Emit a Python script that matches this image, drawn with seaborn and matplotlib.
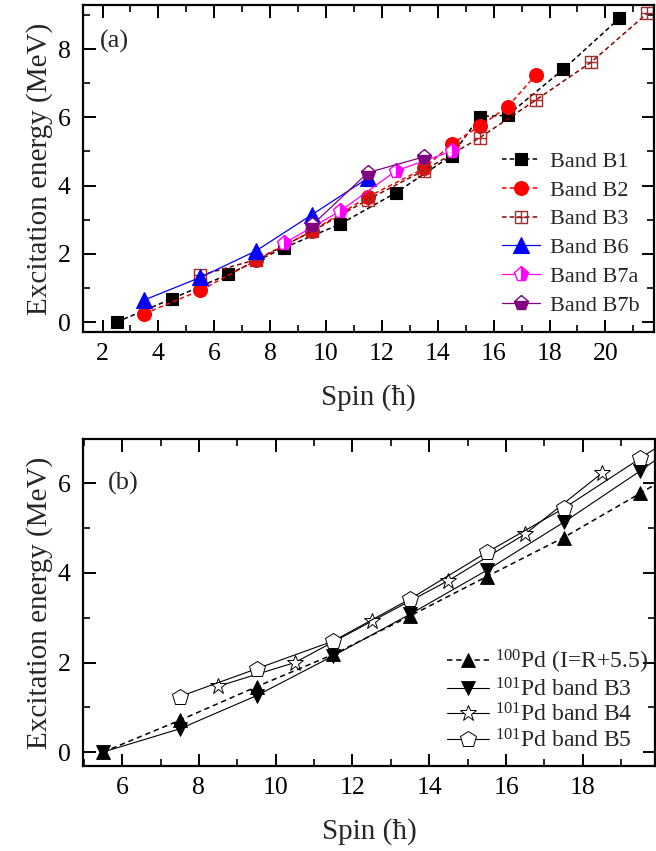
import matplotlib
matplotlib.use("Agg")
import matplotlib.pyplot as plt
from matplotlib.path import Path
from matplotlib.ticker import MultipleLocator
import seaborn as sns

# ---- Panel (a): rotational bands, excitation energy vs spin ----
b1_spin = [2.5, 4.5, 6.5, 8.5, 10.5, 12.5, 14.5, 15.5, 16.5, 18.5, 20.5]
b1_e = [0.0, 0.69, 1.40, 2.18, 2.87, 3.79, 4.88, 6.02, 6.06, 7.41, 8.90]
b2_spin = [3.5, 5.5, 7.5, 9.5, 11.5, 13.5, 14.5, 15.5, 16.5, 17.5]
b2_e = [0.25, 0.93, 1.81, 2.67, 3.67, 4.50, 5.22, 5.74, 6.31, 7.23]
b3_spin = [5.5, 7.5, 9.5, 11.5, 13.5, 15.5, 17.5, 19.5, 21.5]
b3_e = [1.37, 1.83, 2.66, 3.59, 4.44, 5.40, 6.50, 7.62, 9.05]
b6_spin = [3.5, 5.5, 7.5, 9.5, 11.5]
b6_e = [0.65, 1.31, 2.09, 3.15, 4.22]
b7a_spin = [8.5, 10.5, 12.5, 14.5]
b7a_e = [2.31, 3.25, 4.43, 5.01]
b7b_spin = [9.5, 11.5, 13.5]
b7b_e = [2.84, 4.38, 4.84]

# ---- Panel (b): comparison with the 100Pd core ----
pd100_spin = [5.5, 7.5, 9.5, 11.5, 13.5, 15.5, 17.5, 19.5, 21.5]
pd100_e = [0.0, 0.71, 1.46, 2.18, 3.04, 3.92, 4.79, 5.78, 6.80]
pb3_spin = [5.5, 7.5, 9.5, 11.5, 13.5, 15.5, 17.5, 19.5, 21.5]
pb3_e = [0.0, 0.52, 1.26, 2.15, 3.08, 4.06, 5.13, 6.28, 7.50]
pb4_spin = [8.5, 10.5, 12.5, 14.5, 16.5, 18.5]
pb4_e = [1.47, 2.00, 2.92, 3.83, 4.87, 6.23]
pb5_spin = [7.5, 9.5, 11.5, 13.5, 15.5, 17.5, 19.5, 21.5]
pb5_e = [1.24, 1.86, 2.48, 3.42, 4.46, 5.44, 6.56, 7.70]

labels_a = ["Band B1", "Band B2", "Band B3", "Band B6", "Band B7a", "Band B7b"]
labels_b = [r"$^{100}$Pd (I=R+5.5)", r"$^{101}$Pd band B3",
            r"$^{101}$Pd band B4", r"$^{101}$Pd band B5"]

sns.set_theme(style="ticks")
plt.rcParams["font.family"] = ["Liberation Serif", "DejaVu Serif"]
plt.rcParams["mathtext.fontset"] = "custom"
plt.rcParams["mathtext.rm"] = "Liberation Serif"
plt.rcParams["mathtext.it"] = "Liberation Serif:italic"
plt.rcParams["axes.unicode_minus"] = False

# open square with a cross inside
sq_cross = Path(
    [(-1, -1), (1, -1), (1, 1), (-1, 1), (-1, -1), (0, -1), (0, 1), (-1, 0), (1, 0)],
    [Path.MOVETO, Path.LINETO, Path.LINETO, Path.LINETO, Path.CLOSEPOLY,
     Path.MOVETO, Path.LINETO, Path.MOVETO, Path.LINETO],
)

W, H = 656, 851
fig = plt.figure(figsize=(W / 100, H / 100), dpi=100)
ax1 = fig.add_axes([83 / W, 1 - 332 / H, (654 - 83) / W, (332 - 5) / H])
ax2 = fig.add_axes([83 / W, 1 - 766 / H, (655 - 83) / W, (766 - 439) / H])

dash = (0, (3, 2))


def band(ax, x, y, **kw):
    sns.lineplot(x=x, y=y, ax=ax, estimator=None, sort=False, **kw)


# (a)
band(ax1, b1_spin, b1_e, color="black", linestyle=dash, linewidth=1.1,
     marker="s", markersize=9, markerfacecolor="black", markeredgecolor="black",
     markeredgewidth=0.8, label=labels_a[0])
band(ax1, b2_spin, b2_e, color="#ff0000", linestyle=dash, linewidth=1.1,
     marker="o", markersize=10, markerfacecolor="#ff0000", markeredgecolor="#ff0000",
     markeredgewidth=0.8, label=labels_a[1])
band(ax1, b3_spin, b3_e, color="#8b0000", linestyle=dash, linewidth=1.1,
     marker=sq_cross, markersize=9, markerfacecolor="none", markeredgecolor="#a52a2a",
     markeredgewidth=1.0, label=labels_a[2])
band(ax1, b6_spin, b6_e, color="#0000ff", linestyle="-", linewidth=0.9,
     marker="^", markersize=11, markerfacecolor="#0000ff", markeredgecolor="#0000ff",
     markeredgewidth=0.8, label=labels_a[3])
band(ax1, b7a_spin, b7a_e, color="#ff00ff", linestyle="-", linewidth=0.9,
     marker="p", markersize=11, fillstyle="right", markerfacecolor="#ff00ff",
     markerfacecoloralt="white", markeredgecolor="#ff00ff", markeredgewidth=1.0,
     label=labels_a[4])
band(ax1, b7b_spin, b7b_e, color="#800080", linestyle="-", linewidth=0.9,
     marker="p", markersize=11, fillstyle="bottom", markerfacecolor="#800080",
     markerfacecoloralt="white", markeredgecolor="#800080", markeredgewidth=1.0,
     label=labels_a[5])

# (b)
band(ax2, pd100_spin, pd100_e, color="black", linestyle=(0, (3.5, 2.5)), linewidth=1.1,
     marker="^", markersize=10, markerfacecolor="black", markeredgecolor="black",
     markeredgewidth=0.6, label=labels_b[0])
band(ax2, pb3_spin, pb3_e, color="black", linestyle="-", linewidth=0.8,
     marker="v", markersize=10, markerfacecolor="black", markeredgecolor="black",
     markeredgewidth=0.6, label=labels_b[1])
band(ax2, pb4_spin, pb4_e, color="black", linestyle="-", linewidth=0.8,
     marker="*", markersize=12, markerfacecolor="white", markeredgecolor="black",
     markeredgewidth=0.7, label=labels_b[2])
band(ax2, pb5_spin, pb5_e, color="black", linestyle="-", linewidth=0.8,
     marker="p", markersize=12, markerfacecolor="white", markeredgecolor="black",
     markeredgewidth=0.7, label=labels_b[3])

ax1.set_xlim(1.3, 21.74)
ax1.set_ylim(-0.29, 9.29)
ax2.set_xlim(4.98, 19.88)
ax2.set_ylim(-0.31, 6.99)

for ax in (ax1, ax2):
    ax.xaxis.set_major_locator(MultipleLocator(2))
    ax.xaxis.set_minor_locator(MultipleLocator(1))
    ax.yaxis.set_major_locator(MultipleLocator(2))
    ax.yaxis.set_minor_locator(MultipleLocator(1))
    ax.tick_params(which="both", direction="in", top=True, right=True,
                   colors="black", labelsize=18.5)
    ax.tick_params(which="major", length=9, width=1.4)
    ax.tick_params(which="minor", length=5, width=1.2)
    ax.tick_params(axis="x", which="major", pad=8)
    ax.tick_params(axis="y", which="major", pad=9)
    for s in ax.spines.values():
        s.set_linewidth(1.6)
        s.set_color("black")
    ax.set_xlabel("Spin (ħ)", fontsize=21, labelpad=14)
    ax.set_ylabel("Excitation energy (MeV)", fontsize=21)
    ax.yaxis.set_label_coords(-0.052, 0.5)
    ax.grid(False)

ax1.text(0.03, 0.89, "(a)", transform=ax1.transAxes, fontsize=19, va="center", ha="left")
ax2.text(0.043, 0.865, "(b)", transform=ax2.transAxes, fontsize=19, va="center", ha="left")

ax1.legend(handles=ax1.get_lines()[:6], labels=labels_a, loc="upper left",
           bbox_to_anchor=(0.734, 0.553), frameon=False, fontsize=16,
           borderpad=0, borderaxespad=0, handlelength=1.7, handletextpad=0.45,
           labelspacing=0.37)
ax2.legend(handles=ax2.get_lines()[:4], labels=labels_b, loc="upper left",
           bbox_to_anchor=(0.637, 0.361), frameon=False, fontsize=17,
           borderpad=0, borderaxespad=0, handlelength=1.75, handletextpad=0.25,
           labelspacing=0.09)

fig.savefig("out.png", dpi=100)
